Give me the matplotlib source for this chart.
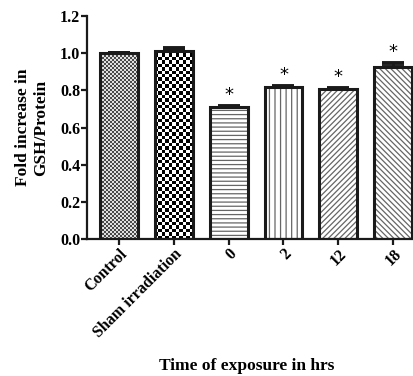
import numpy as np
import matplotlib
matplotlib.use("Agg")
from matplotlib import pyplot as plt
from matplotlib.colors import ListedColormap

# GSH/protein relative to control
groups = ["Control", "Sham irradiation", "0", "2", "12", "18"]
fold_gsh = [1.0, 1.013, 0.712, 0.816, 0.805, 0.926]
sem = [0.0, 0.015, 0.006, 0.010, 0.010, 0.020]
significant = [False, False, True, True, True, True]

plt.rcParams['font.family'] = ['Liberation Serif', 'DejaVu Serif']
plt.rcParams['font.weight'] = 'bold'
plt.rcParams['hatch.linewidth'] = 0.9

fig = plt.figure(figsize=(4.13, 3.76), dpi=100)
ax = fig.add_axes([0.2107, 0.3644, 0.7893, 0.5930])

x = np.arange(len(groups))
width = 0.69
ax.set_xlim(-0.58, 5.36)
ax.set_ylim(0, 1.2)

# line hatches in grey underneath, black outline on top
hatches = [None, None, "----", "|||", "//////", "\\\\\\\\\\\\"]
fill = ax.bar(x, fold_gsh, width, color="white", edgecolor="#666666",
              linewidth=0, hatch=hatches, zorder=2)

def checker(ax, bar, cell, dark, light):
    x0, y0 = bar.get_x(), bar.get_y()
    w, h = bar.get_width(), bar.get_height()
    p0 = ax.transData.transform((x0, y0))
    p1 = ax.transData.transform((x0 + w, y0 + h))
    nx = max(1, int(round((p1[0] - p0[0]) / cell)))
    ny = max(1, int(round((p1[1] - p0[1]) / cell)))
    img = np.indices((ny, nx)).sum(0) % 2
    ax.imshow(img, extent=(x0, x0 + w, y0, y0 + h), origin="lower",
              cmap=ListedColormap([light, dark]), interpolation="nearest",
              aspect="auto", zorder=2.5)

checker(ax, fill[0], 2.0, "#4a4a4a", "#e0e0e0")
checker(ax, fill[1], 3.4, "black", "white")

ax.bar(x, fold_gsh, width, color="none", edgecolor="#1a1a1a",
       linewidth=2.2, zorder=3)

ax.errorbar(x, fold_gsh, yerr=[np.zeros(len(sem)), sem], fmt="none",
            ecolor="#1a1a1a", elinewidth=2, capsize=8, capthick=2.8, zorder=4)

for xi, v, e, s in zip(x, fold_gsh, sem, significant):
    if s:
        ax.text(xi, v + e + 0.01, "*", ha="center", va="bottom",
                fontsize=13, fontweight="normal", family="DejaVu Sans")

ax.set_xlim(-0.58, 5.36)
ax.set_ylim(0, 1.2)

for side in ["top", "right"]:
    ax.spines[side].set_visible(False)
for side in ["left", "bottom"]:
    ax.spines[side].set_linewidth(1.6)
    ax.spines[side].set_color("#1a1a1a")

ax.set_yticks(np.arange(0, 1.21, 0.2))
ax.set_yticklabels([f"{t:.1f}" for t in np.arange(0, 1.21, 0.2)])
ax.tick_params(axis="both", direction="out", length=4, width=1.6,
               labelsize=11.5, color="#1a1a1a", pad=1)
ax.set_xticks(x)
ax.set_xticklabels(groups, rotation=45, ha="right", rotation_mode="anchor")

ax.set_ylabel("Fold increase in\nGSH/Protein", fontsize=12.5,
              fontweight="bold", labelpad=8, linespacing=1.15)
ax.set_xlabel("Time of exposure in hrs", fontsize=12.5, fontweight="bold")
ax.xaxis.set_label_coords(0.49, -0.535)

fig.savefig("out.png", dpi=100)
